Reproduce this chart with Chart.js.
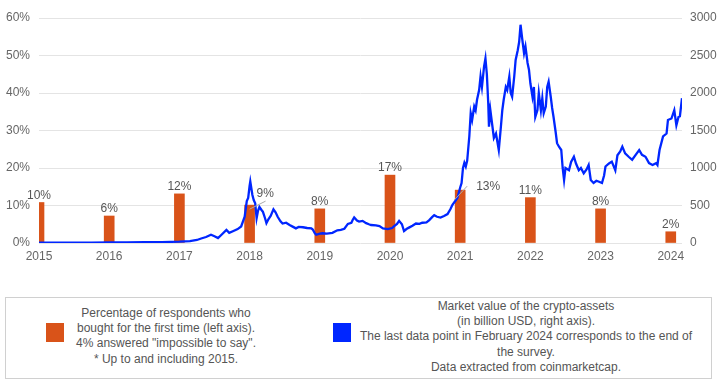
<!DOCTYPE html>
<html>
<head>
<meta charset="utf-8">
<script src="https://cdn.jsdelivr.net/npm/chart.js@4.4.1/dist/chart.umd.min.js"></script>
<style>
  body { margin: 0; background: #fff; font-family: "Liberation Sans", Arial, sans-serif; }
  #wrap { position: relative; width: 722px; height: 392px; }
  #chartBox { position: absolute; left: 0; top: 0; width: 722px; height: 275px; }
  #legend { position: absolute; left: 5px; top: 297px; width: 705px; height: 80px; border: 1px solid #d0d0d0; }
  .sw { position: absolute; width: 18px; height: 19px; }
  .txt { position: absolute; text-align: center; white-space: nowrap; font-size: 12px; line-height: 15.2px; color: #555; }
</style>
</head>
<body>
<div id="wrap">
  <div id="chartBox"><canvas id="cryptoChart"></canvas></div>
  <div id="legend">
    <div class="sw" style="left:40px; top:25px; background:#d95319;"></div>
    <div class="txt" style="left:60px; width:200px; top:8px;">Percentage of respondents who<br>bought for the first time (left axis).<br>4% answered "impossible to say".<br>* Up to and including 2015.</div>
    <div class="sw" style="left:327px; top:25px; background:#0026ff;"></div>
    <div class="txt" style="left:340px; width:360px; top:1px;">Market value of the crypto-assets<br>(in billion USD, right axis).<br>The last data point in February 2024 corresponds to the end of<br>the survey.<br>Data extracted from coinmarketcap.</div>
  </div>
</div>
<script>
// survey years and share of first-time buyers (%)
const years = [2015, 2016, 2017, 2018, 2019, 2020, 2021, 2022, 2023, 2024];
const firstPurchase = [10.8, 7.2, 13.1, 10.1, 9.1, 18.1, 14.1, 12.1, 9.1, 3.0];
const barLabels = ['10%', '6%', '12%', '9%', '8%', '17%', '13%', '11%', '8%', '2%'];

// crypto market value, [year, billion USD]
const marketCap = [
  [2015.00, 5], [2015.25, 4], [2015.50, 4], [2015.75, 5], [2016.00, 7], [2016.25, 8], [2016.50, 11],
  [2016.75, 12], [2017.00, 18], [2017.15, 25], [2017.25, 40], [2017.31, 60], [2017.38, 80], [2017.45, 110],
  [2017.50, 90], [2017.55, 65], [2017.60, 110], [2017.67, 175], [2017.71, 135], [2017.77, 160], [2017.83, 185],
  [2017.88, 220], [2017.93, 350], [2017.96, 560], [2017.98, 600], [2018.00, 760], [2018.01, 820], [2018.03, 700],
  [2018.04, 640], [2018.06, 570], [2018.08, 530], [2018.10, 330], [2018.12, 430], [2018.14, 480], [2018.17, 440],
  [2018.19, 415], [2018.22, 330], [2018.24, 265], [2018.27, 320], [2018.30, 360], [2018.34, 450], [2018.37, 410],
  [2018.40, 350], [2018.44, 290], [2018.47, 260], [2018.52, 270], [2018.57, 240], [2018.62, 215], [2018.66, 195],
  [2018.70, 215], [2018.76, 210], [2018.82, 200], [2018.88, 195], [2018.90, 180], [2018.93, 130], [2018.95, 110],
  [2019.00, 125], [2019.04, 130], [2019.10, 125], [2019.18, 135], [2019.25, 170], [2019.30, 175], [2019.35, 190],
  [2019.40, 255], [2019.45, 270], [2019.47, 310], [2019.49, 340], [2019.53, 300], [2019.56, 285], [2019.61, 295],
  [2019.66, 265], [2019.70, 250], [2019.73, 240], [2019.80, 235], [2019.85, 225], [2019.90, 195], [2019.97, 185],
  [2020.03, 200], [2020.06, 225], [2020.10, 255], [2020.13, 295], [2020.17, 250], [2020.20, 160], [2020.24, 190],
  [2020.27, 205], [2020.32, 230], [2020.37, 260], [2020.42, 255], [2020.46, 270], [2020.52, 275], [2020.56, 305],
  [2020.60, 345], [2020.63, 370], [2020.67, 350], [2020.72, 340], [2020.77, 360], [2020.82, 385], [2020.86, 450],
  [2020.89, 510], [2020.93, 560], [2020.96, 600], [2021.00, 740], [2021.02, 800], [2021.04, 1000], [2021.06, 1070],
  [2021.08, 1020], [2021.10, 1100], [2021.13, 1420], [2021.15, 1730], [2021.17, 1640], [2021.20, 1820], [2021.22, 1770],
  [2021.24, 1910], [2021.27, 2040], [2021.29, 2220], [2021.31, 2080], [2021.34, 2350], [2021.36, 2460], [2021.38, 2250],
  [2021.40, 1860], [2021.41, 1550], [2021.43, 1770], [2021.46, 1550], [2021.48, 1400], [2021.51, 1460], [2021.53, 1350],
  [2021.55, 1240], [2021.58, 1550], [2021.60, 1770], [2021.62, 1910], [2021.65, 2080], [2021.67, 2040], [2021.70, 2220],
  [2021.72, 2000], [2021.74, 1950], [2021.77, 2220], [2021.79, 2440], [2021.82, 2570], [2021.84, 2680], [2021.86, 2910],
  [2021.88, 2750], [2021.91, 2530], [2021.93, 2620], [2021.96, 2400], [2021.98, 2310], [2022.00, 2130], [2022.03, 1950],
  [2022.05, 2080], [2022.07, 1680], [2022.10, 1770], [2022.12, 2000], [2022.15, 1770], [2022.17, 1930], [2022.19, 1730],
  [2022.22, 1820], [2022.24, 2080], [2022.26, 2150], [2022.29, 1950], [2022.31, 1800], [2022.33, 1680], [2022.36, 1480],
  [2022.38, 1330], [2022.41, 1280], [2022.44, 1240], [2022.46, 1000], [2022.48, 840], [2022.50, 1000], [2022.55, 970],
  [2022.58, 1080], [2022.62, 1150], [2022.65, 1060], [2022.69, 970], [2022.72, 1000], [2022.76, 930], [2022.80, 980],
  [2022.83, 1040], [2022.86, 840], [2022.90, 800], [2022.94, 830], [2022.97, 820], [2023.02, 800], [2023.05, 900],
  [2023.07, 1020], [2023.12, 1060], [2023.16, 1085], [2023.21, 970], [2023.24, 1170], [2023.28, 1220], [2023.31, 1285],
  [2023.35, 1195], [2023.40, 1150], [2023.45, 1110], [2023.50, 1175], [2023.55, 1240], [2023.59, 1175], [2023.64, 1150],
  [2023.69, 1065], [2023.74, 1040], [2023.79, 1065], [2023.81, 1040], [2023.84, 1240], [2023.89, 1420], [2023.94, 1460],
  [2023.96, 1640], [2024.01, 1660], [2024.05, 1770], [2024.08, 1570], [2024.11, 1680], [2024.13, 1690], [2024.16, 1930]
];

// labels that sit beside their bar with a leader line: [dx text, dy text, leader x0, y0, x1, y1]
const sideLabels = { 3: [7, -8, 0, 4, 16, -4], 6: [16, 0, -6, 10, 7, -4] };

const barLabelPlugin = {
  id: 'barLabels',
  afterDatasetsDraw(chart) {
    const ctx = chart.ctx;
    const meta = chart.getDatasetMeta(1);
    ctx.save();
    ctx.font = '12px "Liberation Sans", Arial, sans-serif';
    ctx.fillStyle = '#555';
    ctx.textBaseline = 'alphabetic';
    meta.data.forEach((bar, i) => {
      const side = sideLabels[i];
      if (side) {
        ctx.strokeStyle = '#aaa';
        ctx.lineWidth = 1;
        ctx.beginPath();
        ctx.moveTo(bar.x + side[2], bar.y + side[3]);
        ctx.lineTo(bar.x + side[4], bar.y + side[5]);
        ctx.stroke();
        ctx.textAlign = 'left';
        ctx.fillText(barLabels[i], bar.x + side[0], bar.y + side[1]);
      } else {
        ctx.textAlign = 'center';
        ctx.fillText(barLabels[i], bar.x, bar.y - 4);
      }
    });
    ctx.restore();
  }
};

Chart.defaults.font.family = '"Liberation Sans", Arial, sans-serif';
Chart.defaults.font.size = 12;
Chart.defaults.color = '#666';

const ctx = document.getElementById('cryptoChart').getContext('2d');
const cryptoChart = new Chart(ctx, {
  type: 'line',
  data: {
    datasets: [{
      type: 'line',
      label: 'Market value of the crypto-assets',
      data: marketCap.map(p => ({ x: p[0], y: p[1] })),
      yAxisID: 'yR',
      borderColor: '#0026ff',
      borderWidth: 2.3,
      pointRadius: 0,
      tension: 0,
      order: 0
    }, {
      type: 'bar',
      label: 'Percentage of respondents who bought for the first time',
      data: years.map((yr, i) => ({ x: yr, y: firstPurchase[i] })),
      yAxisID: 'yL',
      backgroundColor: '#d95319',
      barThickness: 10,
      order: 1
    }]
  },
  options: {
    responsive: true,
    maintainAspectRatio: false,
    animation: false,
    layout: { padding: { top: 18 } },
    plugins: {
      legend: { display: false },
      tooltip: { enabled: false }
    },
    scales: {
      x: {
        type: 'linear',
        min: 2015,
        max: 2024.16,
        offset: false,
        grid: { display: false, drawTicks: false },
        border: { display: false },
        ticks: {
          stepSize: 1,
          includeBounds: false,
          autoSkip: false,
          maxRotation: 0,
          padding: 6,
          callback: v => Number.isInteger(v) ? String(v) : ''
        },
        afterFit: s => { s.height = 32; }
      },
      yL: {
        position: 'left',
        min: 0,
        max: 60,
        grid: { color: '#e4e4e4', drawTicks: false },
        border: { display: false },
        ticks: { stepSize: 10, padding: 9, callback: v => v + '%' },
        afterFit: s => { s.width = 39; }
      },
      yR: {
        position: 'right',
        min: 0,
        max: 3000,
        grid: { display: false, drawTicks: false },
        border: { display: false },
        ticks: { stepSize: 500, padding: 8, callback: v => String(v) },
        afterFit: s => { s.width = 40; }
      }
    }
  },
  plugins: [barLabelPlugin]
});
</script>
</body>
</html>
